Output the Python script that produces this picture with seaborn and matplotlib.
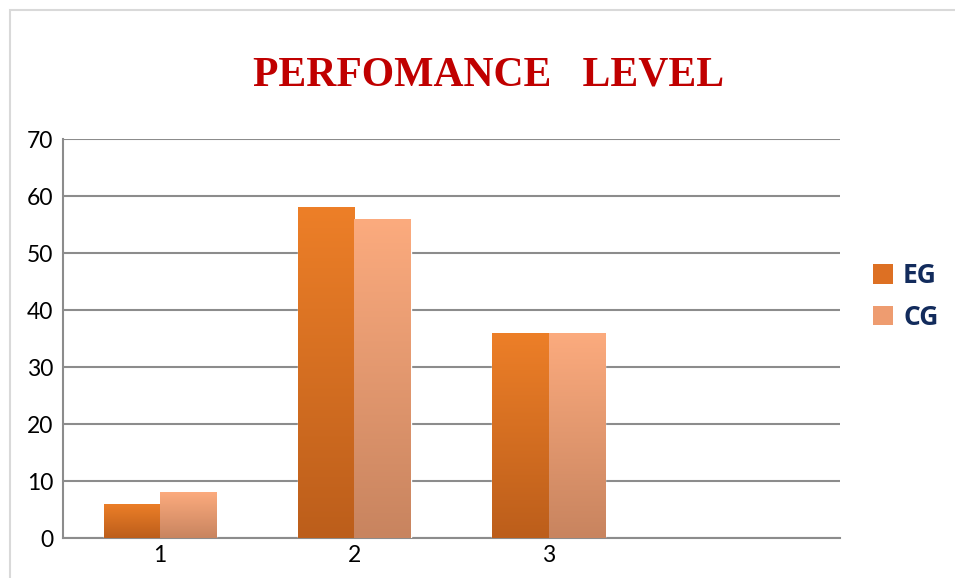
import numpy as np
import pandas as pd
import matplotlib
matplotlib.use('Agg')
import matplotlib.pyplot as plt
import matplotlib.colors as mcolors
from matplotlib.patches import Rectangle, Patch
import seaborn as sns

categories = ['1', '2', '3']
eg_values = [6, 58, 36]
cg_values = [8, 56, 36]
groups = ['EG', 'CG']

df = pd.DataFrame({
    'level': categories * 2,
    'value': eg_values + cg_values,
    'group': ['EG'] * 3 + ['CG'] * 3,
})

# top, bottom of each gradient
grad = {
    'EG': ('#ED7F28', '#BC5E1B'),
    'CG': ('#FCAB7E', '#C8845F'),
}
flat = {'EG': '#DD7023', 'CG': '#EE9C70'}

sns.set_theme(style='white')
plt.rcParams['font.family'] = ['Lato', 'DejaVu Sans']

fig = plt.figure(figsize=(9.55, 5.78), dpi=100)
ax = fig.add_axes([0.066, 0.0692, 0.8136, 0.6903])

sns.barplot(data=df, x='level', y='value', hue='group', order=categories,
            hue_order=groups, palette=flat, width=0.58, gap=0,
            legend=False, ax=ax, zorder=3)

# gradient fill inside each bar
n = len(categories)
for i, bar in enumerate(ax.patches[:2 * n]):
    g = groups[i // n]
    cmap = mcolors.LinearSegmentedColormap.from_list(g, [grad[g][1], grad[g][0]])
    x0, y0 = bar.get_x(), bar.get_y()
    w, h = bar.get_width(), bar.get_height()
    img = ax.imshow(np.linspace(0, 1, 256).reshape(-1, 1), cmap=cmap,
                    origin='lower', aspect='auto',
                    extent=[x0, x0 + w, y0, y0 + h], zorder=4)
    img.set_clip_path(bar)

ax.set_xlim(-0.5, 3.5)
ax.set_ylim(0, 70)
ax.set_yticks(range(0, 71, 10))
ax.yaxis.grid(True, color='#8C8C8C', linewidth=1.5, zorder=0)
ax.set_axisbelow(True)
ax.set_xlabel('')
ax.set_ylabel('')
for s in ['top', 'right']:
    ax.spines[s].set_visible(False)
for s in ['left', 'bottom']:
    ax.spines[s].set_color('#8C8C8C')
    ax.spines[s].set_linewidth(1.5)
ax.tick_params(axis='both', labelsize=16.5, colors='#000000', length=0, pad=5)
ax.tick_params(axis='y', pad=7)

handles = [Patch(facecolor=flat[g], edgecolor='none', label=g) for g in groups]
leg = fig.legend(handles=handles, loc='center left', bbox_to_anchor=(0.889, 0.487),
                 frameon=False, handlelength=0.75, handleheight=0.75,
                 handletextpad=0.4, labelspacing=0.55,
                 prop={'family': ['Open Sans', 'DejaVu Sans'], 'weight': 'bold', 'size': 19})
for t in leg.get_texts():
    t.set_color('#122B5C')

fig.text(0.512, 0.87, 'PERFOMANCE   LEVEL', ha='center', va='center',
         family=['Liberation Serif', 'DejaVu Serif'], weight='bold',
         fontsize=30, color='#C00000')

fig.patches.append(Rectangle((10 / 955, -0.1), 1.2, 0.1 + 1 - 10 / 578,
                             transform=fig.transFigure, fill=False,
                             edgecolor='#D9D9D9', linewidth=1.5))

fig.savefig('out.png', dpi=100)
